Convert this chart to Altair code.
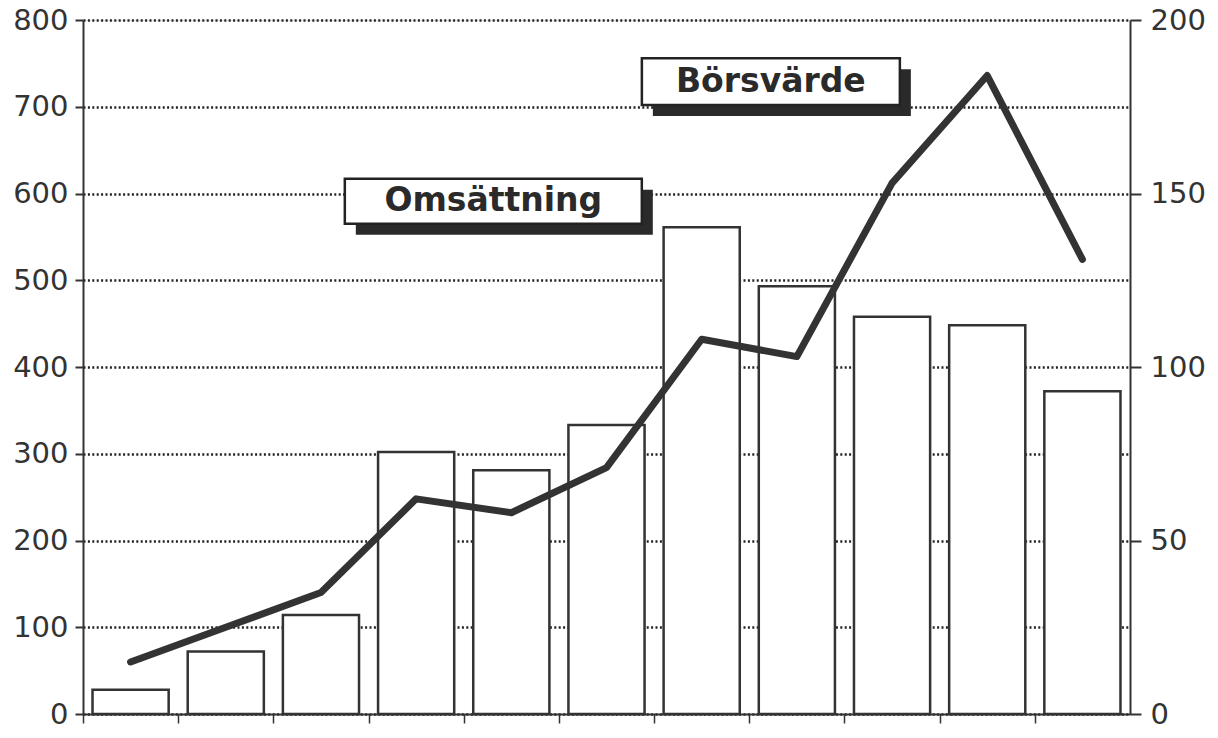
import altair as alt
import pandas as pd

# Categories (years, not labelled in the original)
years = ["1980", "1981", "1982", "1983", "1984", "1985", "1986", "1987", "1988", "1989", "1990"]
# Bars, left axis (0-800)
omsattning = [28, 72, 114, 302, 281, 333, 561, 493, 458, 448, 372]
# Line, right axis (0-200)
borsvarde = [15, 25, 35, 62, 58, 71, 108, 103, 153, 184, 131]

left_ticks = [0, 100, 200, 300, 400, 500, 600, 700, 800]
right_ticks = [0, 50, 100, 150, 200]

# Annotation boxes (anchored in data units on the left axis)
ann_labels = ["Omsättning", "Börsvärde"]
ann_year = ["1984", "1987"]
ann_top = [617, 756]
ann_bottom = [565, 702]
ann_mid = [591, 729]

df = pd.DataFrame({"year": years, "oms": omsattning, "bors": borsvarde})

INK = "#333333"
FONT = "DejaVu Sans"
LABEL_SIZE = 29
PAD_INNER = 0.2
PAD_OUTER = 0.1
PLOT_W = 1047
STEP = PLOT_W / (len(years) - PAD_INNER + 2 * PAD_OUTER)

xscale = alt.Scale(domain=years, paddingInner=PAD_INNER, paddingOuter=PAD_OUTER)
xaxis = alt.Axis(labels=False, title=None, grid=False, domainWidth=2, domainColor=INK,
                 bandPosition=0, tickOffset=-STEP * PAD_INNER / 2,
                 tickSize=9, tickWidth=1.5, tickColor=INK)
left_scale = alt.Scale(domain=[0, 800], nice=False, zero=True)
right_scale = alt.Scale(domain=[0, 200], nice=False, zero=True)
left_axis = alt.Axis(values=left_ticks, title=None, orient="left", grid=True,
                     gridDash=[2, 2.4], gridColor="#222222", gridWidth=2.4,
                     domainWidth=2, domainColor=INK, tickColor=INK, tickSize=8,
                     tickWidth=2, labelFont=FONT, labelFontSize=LABEL_SIZE, labelColor=INK,
                     labelPadding=7)
right_axis = alt.Axis(values=right_ticks, title=None, orient="right", grid=False,
                      domainWidth=2, domainColor=INK, tickColor=INK, tickSize=11,
                      tickWidth=2, labelFont=FONT, labelFontSize=LABEL_SIZE, labelColor=INK,
                      labelPadding=9)

X = alt.X("year:N", sort=years, scale=xscale, axis=xaxis)

bars = alt.Chart(df).mark_bar(fill="white", stroke=INK, strokeWidth=2.5).encode(
    x=X,
    y=alt.Y("oms:Q", scale=left_scale, axis=left_axis),
)

ann_layers = []
offsets = [(-18, 297), (-26, 258)]
for i in range(len(ann_labels)):
    adf = pd.DataFrame({"year": [ann_year[i]], "top": [ann_top[i]], "bottom": [ann_bottom[i]],
                        "mid": [ann_mid[i]], "label": [ann_labels[i]]})
    dx, w = offsets[i]
    shadow = alt.Chart(adf).mark_rect(fill="#2a2a2a", width=w, xOffset=dx + 11,
                                      yOffset=11, y2Offset=11).encode(
        x=X, y=alt.Y("top:Q", scale=left_scale, axis=left_axis), y2="bottom:Q")
    box = alt.Chart(adf).mark_rect(fill="white", stroke="#222222", strokeWidth=2.5, width=w,
                                   xOffset=dx).encode(
        x=X, y=alt.Y("top:Q", scale=left_scale, axis=left_axis), y2="bottom:Q")
    txt = alt.Chart(adf).mark_text(font=FONT, fontSize=33, fontWeight="bold", color="#2a2a2a",
                                   align="center", baseline="middle", dx=dx).encode(
        x=X, y=alt.Y("mid:Q", scale=left_scale, axis=left_axis), text="label:N")
    ann_layers += [shadow, box, txt]

left = alt.layer(bars, *ann_layers)

line = alt.Chart(df).mark_line(color=INK, strokeWidth=7, strokeCap="round", strokeJoin="round").encode(
    x=X,
    y=alt.Y("bors:Q", scale=right_scale, axis=right_axis),
)

chart = alt.layer(left, line).resolve_scale(y="independent").properties(
    width=PLOT_W, height=694,
    autosize=alt.AutoSizeParams(type="none"),
    padding={"left": 75, "top": 12, "right": 80, "bottom": 12},
).configure_view(stroke=None).configure(background="white")

chart.save("out.html", embed_options={"renderer": "svg", "actions": False})
